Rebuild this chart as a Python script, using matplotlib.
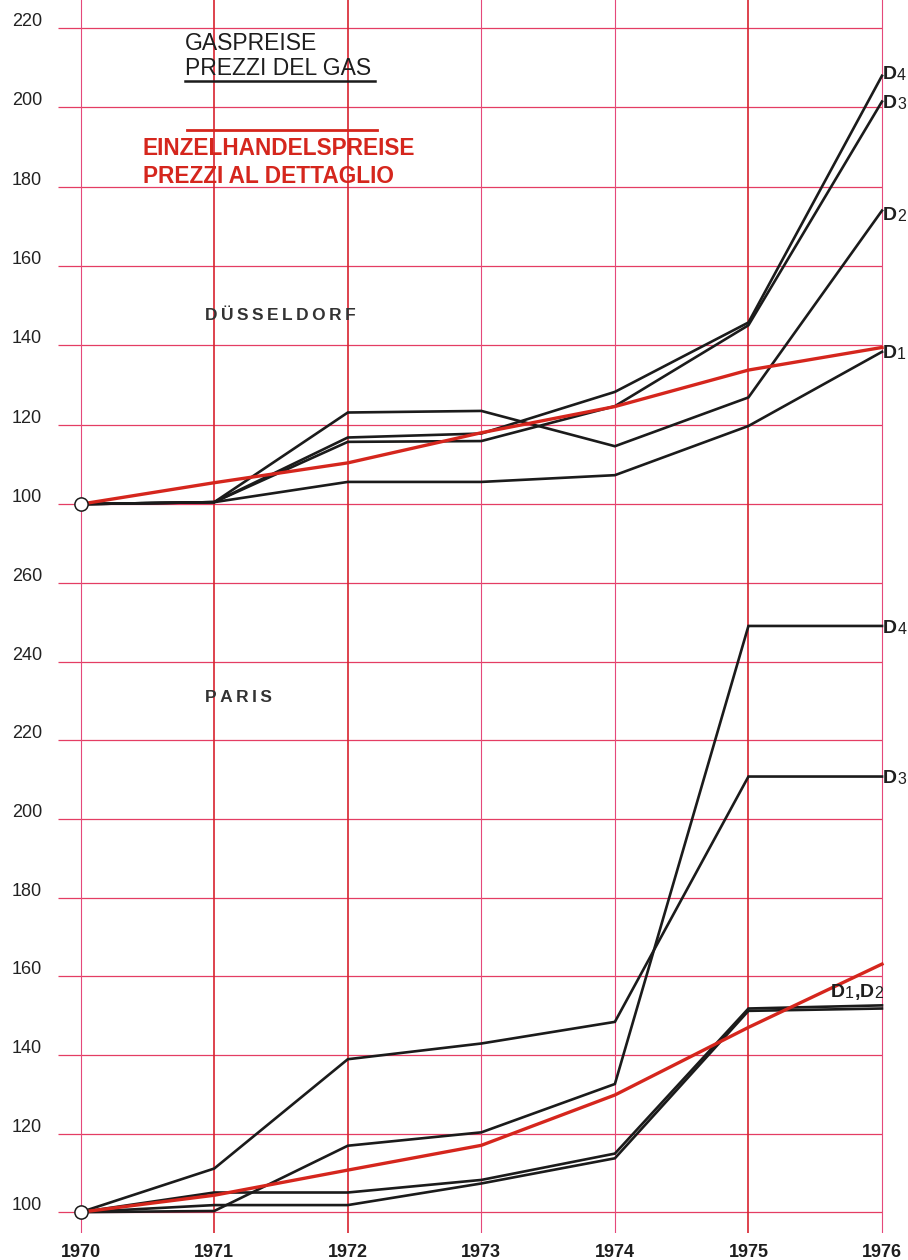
import matplotlib
matplotlib.use("Agg")
import matplotlib.pyplot as plt
from matplotlib.transforms import ScaledTranslation, blended_transform_factory

# ---------------------------------------------------------------------------
# Data: gas price indices (1970 = 100) for four consumer classes D1..D4,
# together with the general retail price index, Düsseldorf and Paris.
# ---------------------------------------------------------------------------
years = [1970, 1971, 1972, 1973, 1974, 1975, 1976]

dus_d1 = [100, 100.5, 105.6, 105.6, 107.3, 119.7, 138.4]
dus_d2 = [100, 100.5, 123.1, 123.5, 114.6, 126.9, 174.0]
dus_d3 = [100, 100.5, 115.7, 115.9, 124.7, 145.1, 201.5]
dus_d4 = [100, 100.5, 116.8, 117.8, 128.3, 145.8, 208.0]
dus_retail = [100, 105.4, 110.4, 118.0, 124.6, 133.8, 139.5]

par_d1 = [100, 101.8, 101.8, 107.3, 113.7, 151.2, 151.8]
par_d2 = [100, 105.0, 105.0, 108.2, 114.9, 151.8, 152.6]
par_d3 = [100, 111.1, 138.9, 142.9, 148.4, 210.8, 210.8]
par_d4 = [100, 100.3, 116.9, 120.3, 132.6, 249.1, 249.1]
par_retail = [100, 104.3, 110.7, 117.0, 129.8, 147.0, 163.1]

top_ticks = [100, 120, 140, 160, 180, 200, 220]
bot_ticks = [100, 120, 140, 160, 180, 200, 220, 240, 260]

# ---------------------------------------------------------------------------
# Styling
# ---------------------------------------------------------------------------
W, H = 908, 1260
SANS = ['Liberation Sans', 'DejaVu Sans']
GRID_H = '#e43d63'
GRID_V_LIGHT = '#e5487a'
GRID_V_STRONG = '#d8232f'
BLACK = '#1b1b1b'
RED = '#d5261d'
TEXT_GRAY = '#333333'

XLIM = (1969.83, 1976.06)
TOP_YLIM = (90.2, 227.1)
BOT_YLIM = (94.7, 270.2)

fig = plt.figure(figsize=(W / 100, H / 100), dpi=100)
fig.patch.set_facecolor('white')


def px_axes(left, top, right, bottom):
    return fig.add_axes([left / W, 1 - bottom / H, (right - left) / W, (bottom - top) / H])


ax_top = px_axes(58, 0, 890, 543)
ax_bot = px_axes(58, 543, 890, 1233)


def setup_panel(ax, ylim, ticks):
    ax.set_xlim(*XLIM)
    ax.set_ylim(*ylim)
    for s in ax.spines.values():
        s.set_visible(False)
    ax.set_xticks([])
    ax.set_yticks([])
    ax.set_facecolor('none')
    # horizontal grid
    ax.hlines(ticks, XLIM[0], years[-1], colors=GRID_H, lw=0.9, zorder=1)
    # vertical grid
    for yr in years:
        strong = yr in (1971, 1972, 1975)
        ax.axvline(yr, color=GRID_V_STRONG if strong else GRID_V_LIGHT,
                   lw=1.2 if strong else 0.8, zorder=1)
    # value labels sitting just above each grid line
    trans = blended_transform_factory(ax.transAxes, ax.transData) + \
        ScaledTranslation(-16 / 100, 2 / 100, fig.dpi_scale_trans)
    for v in ticks:
        ax.text(0, v, str(v), transform=trans, ha='right', va='baseline',
                fontsize=13, family=SANS, color='#222222')


setup_panel(ax_top, TOP_YLIM, top_ticks)
setup_panel(ax_bot, BOT_YLIM, bot_ticks)

# x labels under the lower panel
xtrans = blended_transform_factory(ax_bot.transData, ax_bot.transAxes) + \
    ScaledTranslation(0, -24 / 100, fig.dpi_scale_trans)
for yr in years:
    ax_bot.text(yr, 0, str(yr), transform=xtrans, ha='center', va='baseline',
                fontsize=13, fontweight='bold', family=SANS, color='#1e1e1e')

# ---------------------------------------------------------------------------
# Series
# ---------------------------------------------------------------------------
for ax, series, retail in (
        (ax_top, [dus_d1, dus_d2, dus_d3, dus_d4], dus_retail),
        (ax_bot, [par_d1, par_d2, par_d3, par_d4], par_retail)):
    for s in series:
        ax.plot(years, s, color=BLACK, lw=1.9, zorder=3, solid_joinstyle='miter')
    ax.plot(years, retail, color=RED, lw=2.4, zorder=4)
    ax.plot([years[0]], [retail[0]], marker='o', ms=9.5, mfc='white',
            mec=BLACK, mew=1.1, zorder=6, clip_on=False)


def end_label(ax, x, y, parts, dx, dy):
    """Write a label made of (text, size, weight) pieces next to a point."""
    prev = None
    for txt, size, weight in parts:
        kw = dict(fontsize=size, fontweight=weight, family=SANS, color='#1e1e1e',
                  annotation_clip=False, zorder=7)
        if prev is None:
            prev = ax.annotate(txt, xy=(x, y), xytext=(dx, dy), textcoords='offset points',
                               ha='left', va='baseline', **kw)
        else:
            prev = ax.annotate(txt, xy=(1, 0), xycoords=prev, xytext=(0.3, 0),
                               textcoords='offset points', ha='left', va='bottom', **kw)


def d_parts(n):
    return [('D', 14, 'bold'), (str(n), 11.5, 'normal')]


# Düsseldorf end labels
end_label(ax_top, years[-1], dus_d4[-1], d_parts(4), 0.5, -2.5)
end_label(ax_top, years[-1], dus_d3[-1], d_parts(3), 0.5, -4.5)
end_label(ax_top, years[-1], dus_d2[-1], d_parts(2), 0.5, -7)
end_label(ax_top, years[-1], dus_d1[-1], d_parts(1), 0.5, -4.5)

# Paris end labels
end_label(ax_bot, years[-1], par_d4[-1], d_parts(4), 0.8, -5)
end_label(ax_bot, years[-1], par_d3[-1], d_parts(3), 0.8, -5)
end_label(ax_bot, years[-1], par_d2[-1],
          [('D', 14, 'bold'), ('1', 11.5, 'normal'), (',', 14, 'bold'),
           ('D', 14, 'bold'), ('2', 11.5, 'normal')], -37, 6)

# ---------------------------------------------------------------------------
# Headings and key
# ---------------------------------------------------------------------------
def ax_frac(px, py, top_px, bottom_px):
    return (px - 58) / (890 - 58), 1 - (py - top_px) / (bottom_px - top_px)


def top_text(px, py, s, **kw):
    x, y = ax_frac(px, py, 0, 543)
    ax_top.text(x, y, s, transform=ax_top.transAxes, ha='left', va='baseline', **kw)


top_text(185, 50, 'GASPREISE', fontsize=16.5, family=SANS, color='#1e1e1e', zorder=5)
top_text(185, 75, 'PREZZI DEL GAS', fontsize=16.5, family=SANS, color='#1e1e1e', zorder=5)
x0, yk = ax_frac(185, 81, 0, 543)
x1, _ = ax_frac(375, 81, 0, 543)
ax_top.plot([x0, x1], [yk, yk], transform=ax_top.transAxes, color=BLACK, lw=1.8, zorder=5)

x0, yr_ = ax_frac(187, 130, 0, 543)
x1, _ = ax_frac(377, 130, 0, 543)
ax_top.plot([x0, x1], [yr_, yr_], transform=ax_top.transAxes, color=RED, lw=2.0, zorder=5)
top_text(143, 155, 'EINZELHANDELSPREISE', fontsize=16.3, fontweight='bold', family=SANS,
         color=RED, zorder=5)
top_text(143, 183, 'PREZZI AL DETTAGLIO', fontsize=16.3, fontweight='bold', family=SANS,
         color=RED, zorder=5)

THIN = '\u2009'
top_text(205, 320, THIN.join('DÜSSELDORF'), fontsize=12.5, fontweight='bold', family=SANS,
         color=TEXT_GRAY, zorder=5)
xp, yp = ax_frac(205, 702, 543, 1233)
ax_bot.text(xp, yp, THIN.join('PARIS'), transform=ax_bot.transAxes, ha='left', va='baseline',
            fontsize=12.5, fontweight='bold', family=SANS, color=TEXT_GRAY, zorder=5)

fig.savefig('out.png', dpi=100, facecolor='white')
